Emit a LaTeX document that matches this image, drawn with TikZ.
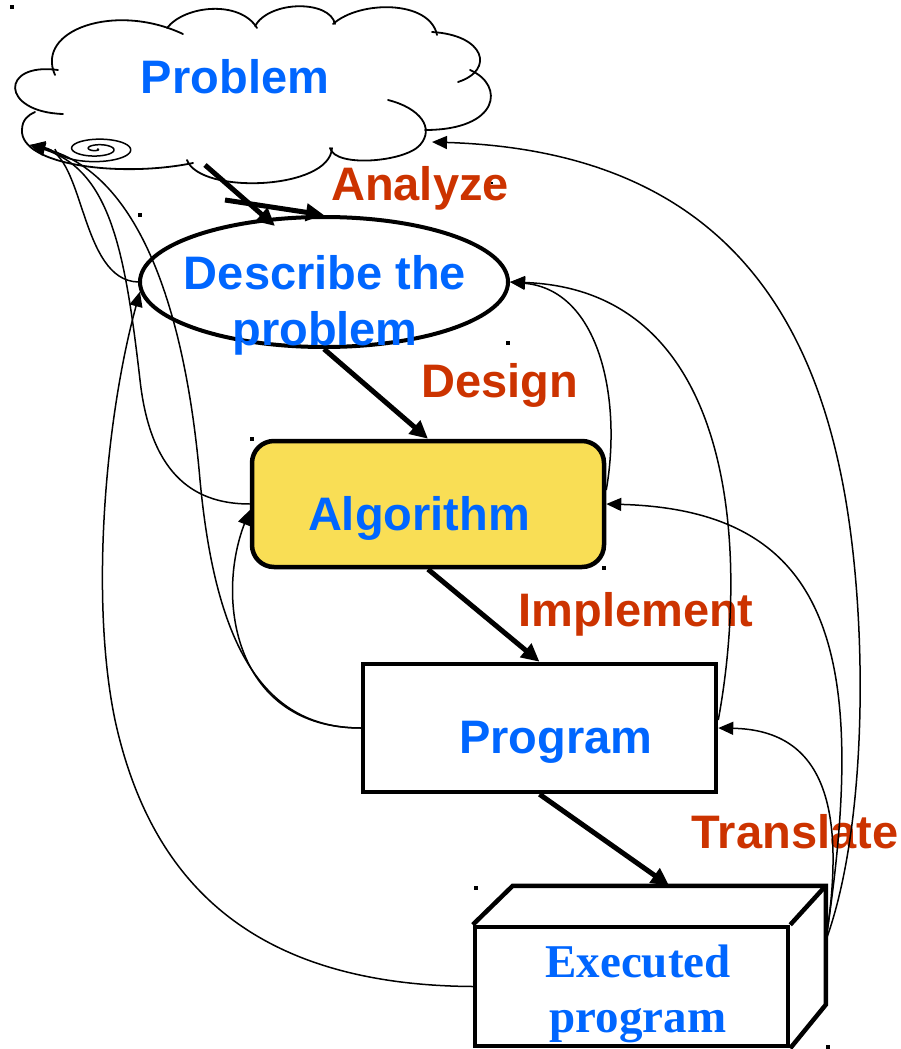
\documentclass[tikz,border=0pt]{standalone}
\usepackage{fontspec}
\setmainfont{Liberation Sans}
\newfontfamily\serifb{Liberation Serif}
\usetikzlibrary{arrows.meta,shapes.geometric}
\definecolor{tblue}{RGB}{0,102,255}
\definecolor{tred}{RGB}{204,51,0}
\definecolor{tyellow}{RGB}{249,222,85}
\begin{document}
\begin{tikzpicture}[x=1pt,y=-1pt,
  lbl/.style={font=\fontsize{47}{56}\selectfont\bfseries, text=tblue, anchor=base, inner sep=0pt, align=center},
  act/.style={font=\fontsize{47}{56}\selectfont\bfseries, text=tred, anchor=base, inner sep=0pt},
  heavy/.style={line width=5pt, -{Triangle[length=18pt,width=17pt]}},
  thinarr/.style={line width=1.5pt, -{Triangle[length=15pt,width=13pt]}},
  boxline/.style={line width=4.5pt},
  cloudline/.style={line width=1.8pt, line cap=round},
  handle/.style={fill=black, draw=none, rectangle, inner sep=0pt, minimum size=4pt},
]
\useasboundingbox (0,0) rectangle (901,1049);

% ---------- cloud (Problem) ----------
\draw[cloudline] (63,114) .. controls (0,112) and (0,62) .. (58,70);
\draw[cloudline] (55,75) .. controls (35,30) and (115,2) .. (183,34);
\draw[cloudline] (167,28) .. controls (185,5) and (240,0) .. (257,28);
\draw[cloudline] (255,26) .. controls (270,0) and (330,0) .. (335,24);
\draw[cloudline] (333,24) .. controls (360,0) and (430,0) .. (437,35);
\draw[cloudline] (432,32) .. controls (485,35) and (495,70) .. (458,82);
\draw[cloudline] (470,70) .. controls (505,85) and (500,130) .. (425,130);
\draw[cloudline] (388,100) .. controls (420,108) and (435,128) .. (420,145) .. controls (405,162) and (335,168) .. (330,148);
\draw[cloudline] (332,148) .. controls (330,190) and (200,195) .. (187,160);
\draw[cloudline] (193,163) .. controls (120,178) and (20,165) .. (22,130) .. controls (22,120) and (28,115) .. (35,112);
\coordinate (problem) at (235,80);
\node[lbl] (tProblem) at (235,93) {Problem};
% spiral
\draw[line width=1.5pt] plot[domain=0:900, samples=200, smooth]
  ({97 + 42*(\x/900)*cos(\x)}, {149 + 14*(\x/900)*sin(\x)});
\coordinate (ptip) at (30,145);
\coordinate (probR) at (432,142);
\coordinate (probB1) at (205,165);
\coordinate (probB2) at (225,200);

% ---------- nodes ----------
\node[draw, ellipse, line width=4pt, minimum width=368pt, minimum height=130pt, inner sep=0pt] (desc) at (324,282) {};
\node[lbl] (tDesc) at (325,345) {Describe the\\problem};

\node[draw, boxline, rounded corners=22pt, fill=tyellow, minimum width=352pt, minimum height=126pt] (alg) at (428,504) {};
\node[lbl] (tAlg) at (419,530) {Algorithm};

\node[draw, boxline, minimum width=353pt, minimum height=128pt] (prog) at (539.5,728) {};
\node[lbl] (tProg) at (556,753) {Program};

\node[draw, boxline, minimum width=313pt, minimum height=119pt] (exec) at (631.5,986.5) {};
\draw[boxline, line join=miter] (exec.north west) -- ++(40,-39) coordinate (etl) -- ++(313,0) coordinate (etr) -- ++(0,119) -- (exec.south east);
\draw[boxline] (exec.north east) -- (etr);
\path (etl) -- (etr) coordinate[pos=0.5] (etop);
\coordinate (eright) at ([yshift=-55pt]etr);
\node[lbl, font=\fontsize{47}{55}\selectfont\serifb\bfseries] (tExec) at (638,1032) {Executed\\program};

% ---------- action labels ----------
\node[act] (lAnalyze) at (420,200) {Analyze};
\node[act] (lDesign) at (500,397) {Design};
\node[act] (lImpl) at (636,626) {Implement};
\node[act] (lTrans) at (795,848) {Translate};

% ---------- heavy arrows ----------
\coordinate (descT1) at (275,226);
\draw[heavy] (probB1) -- (descT1);
\draw[heavy] (probB2) -- (desc.north);
\draw[heavy] (desc.south) -- (alg.north);
\draw[heavy] (alg.south) -- (prog.north);
\draw[heavy] (prog.south) -- (etop);

% ---------- thin feedback arrows ----------
\draw[thinarr] ([yshift=14pt]alg.east) .. controls (622,400) and (600,290) .. (desc.east);
\draw[thinarr] ([yshift=8pt]prog.east) .. controls (748,560) and (740,290) .. (desc.east);
\draw[thinarr] (eright) .. controls (870,650) and (830,510) .. (alg.east);
\draw[thinarr] (eright) .. controls (848,800) and (820,730) .. (prog.east);
\draw[thinarr] (eright) .. controls (870,820) and (868,600) .. (840,470) .. controls (800,280) and (690,150) .. (probR);
\draw[thinarr] (desc.west) .. controls (80,280) and (85,155) .. (ptip);
\draw[thinarr] (alg.west) .. controls (190,504) and (150,470) .. (140,380) .. controls (125,250) and (110,170) .. (ptip);
\draw[thinarr] (prog.west) .. controls (260,728) and (215,640) .. (200,480) .. controls (188,340) and (150,175) .. (ptip);
\draw[thinarr] (exec.west) .. controls (250,985) and (150,880) .. (115,720) .. controls (90,600) and (105,420) .. (desc.183);
\draw[thinarr] (prog.west) .. controls (235,728) and (215,600) .. ([yshift=-6pt]alg.west);

% ---------- selection handles ----------
\node[handle] (h1) at (12,7) {};
\node[handle] (h2) at (140,215) {};
\node[handle] (h3) at (508,343) {};
\node[handle, minimum size=2.5pt] (h4) at (492,183) {};
\node[handle] (h5) at (252,439) {};
\node[handle] (h6) at (604,568) {};
\node[handle] (h7) at (476,888) {};
\node[handle] (h8) at (828,1047) {};
\end{tikzpicture}
\end{document}
